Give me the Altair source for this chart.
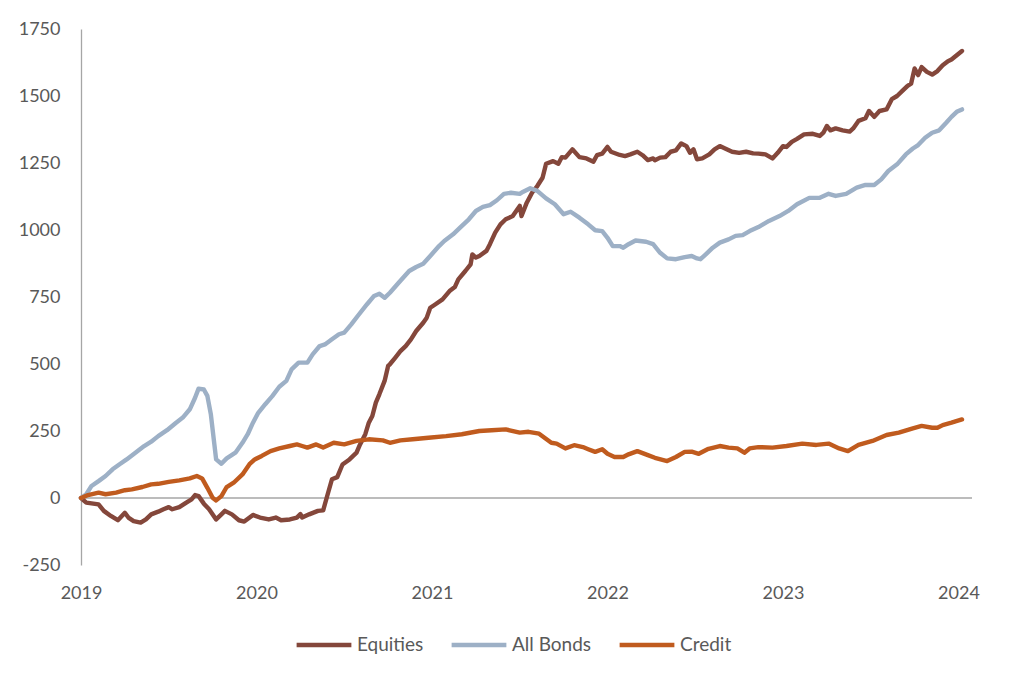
import altair as alt
import pandas as pd

series_names = ["Equities", "All Bonds", "Credit"]
colors = ["#84473b", "#9db0c6", "#c05b1e"]

eq_x = [2019.00, 2019.03, 2019.07, 2019.10, 2019.13, 2019.17, 2019.21, 2019.25, 2019.27, 2019.30,
        2019.34, 2019.37, 2019.40, 2019.44, 2019.47, 2019.50, 2019.52, 2019.56, 2019.60, 2019.63,
        2019.65, 2019.67, 2019.70, 2019.73, 2019.77, 2019.80, 2019.82, 2019.86, 2019.90, 2019.93,
        2019.98, 2020.02, 2020.07, 2020.11, 2020.14, 2020.19, 2020.23, 2020.25, 2020.26, 2020.30,
        2020.35, 2020.38, 2020.40, 2020.43, 2020.46, 2020.49, 2020.53, 2020.57, 2020.59, 2020.62,
        2020.64, 2020.66, 2020.68, 2020.70, 2020.73, 2020.75, 2020.76, 2020.79, 2020.82, 2020.85,
        2020.88, 2020.91, 2020.95, 2020.97, 2020.99, 2021.02, 2021.06, 2021.10, 2021.13, 2021.15,
        2021.19, 2021.22, 2021.23, 2021.25, 2021.27, 2021.31, 2021.33, 2021.36, 2021.39, 2021.42,
        2021.46, 2021.48, 2021.50, 2021.51, 2021.54, 2021.57, 2021.60, 2021.63, 2021.65, 2021.69,
        2021.72, 2021.74, 2021.76, 2021.80, 2021.84, 2021.88, 2021.92, 2021.94, 2021.97, 2022.00,
        2022.02, 2022.07, 2022.10, 2022.13, 2022.17, 2022.20, 2022.23, 2022.26, 2022.27, 2022.30,
        2022.33, 2022.36, 2022.39, 2022.42, 2022.45, 2022.47, 2022.49, 2022.51, 2022.54, 2022.58,
        2022.61, 2022.64, 2022.67, 2022.71, 2022.75, 2022.79, 2022.83, 2022.86, 2022.90, 2022.94,
        2022.97, 2023.00, 2023.02, 2023.05, 2023.08, 2023.12, 2023.17, 2023.21, 2023.23, 2023.25,
        2023.27, 2023.30, 2023.34, 2023.38, 2023.40, 2023.43, 2023.47, 2023.49, 2023.52, 2023.55,
        2023.59, 2023.62, 2023.65, 2023.68, 2023.71, 2023.73, 2023.75, 2023.77, 2023.79, 2023.82,
        2023.85, 2023.88, 2023.91, 2023.94, 2023.96, 2023.99, 2024.02]
eq_y = [0, -17, -21, -24, -48, -67, -83, -55, -73, -86,
        -92, -80, -61, -51, -42, -34, -42, -34, -17, -5,
        11, 7, -21, -42, -80, -61, -48, -61, -83, -88,
        -63, -73, -80, -73, -83, -80, -73, -60, -73, -61,
        -48, -46, 1, 70, 78, 125, 144, 169, 200, 238,
        281, 306, 356, 387, 437, 493, 499, 523, 548, 567,
        592, 623, 654, 673, 710, 723, 741, 772, 787, 816,
        847, 872, 909, 897, 903, 922, 947, 990, 1021, 1040,
        1052, 1071, 1090, 1052, 1102, 1139, 1164, 1195, 1247, 1257,
        1247, 1272, 1270, 1301, 1272, 1267, 1255, 1279, 1285, 1310,
        1292, 1280, 1276, 1282, 1292, 1279, 1261, 1267, 1260, 1270,
        1272, 1292, 1297, 1323, 1313, 1288, 1301, 1264, 1267, 1282,
        1301, 1313, 1304, 1292, 1288, 1292, 1286, 1285, 1282, 1267,
        1288, 1313, 1310, 1329, 1340, 1357, 1359, 1351, 1363, 1388,
        1372, 1379, 1372, 1367, 1379, 1407, 1417, 1444, 1422, 1444,
        1450, 1488, 1500, 1519, 1538, 1546, 1603, 1578, 1608, 1590,
        1580, 1593, 1615, 1630, 1636, 1652, 1668]

bd_x = [2019.00, 2019.03, 2019.06, 2019.10, 2019.14, 2019.18, 2019.22, 2019.26, 2019.31, 2019.36,
        2019.40, 2019.44, 2019.49, 2019.54, 2019.58, 2019.62, 2019.65, 2019.67, 2019.70, 2019.72,
        2019.74, 2019.76, 2019.77, 2019.80, 2019.83, 2019.88, 2019.92, 2019.95, 2019.98, 2020.01,
        2020.05, 2020.09, 2020.13, 2020.17, 2020.20, 2020.24, 2020.29, 2020.32, 2020.36, 2020.39,
        2020.43, 2020.47, 2020.50, 2020.54, 2020.58, 2020.63, 2020.67, 2020.70, 2020.73, 2020.76,
        2020.81, 2020.87, 2020.91, 2020.95, 2020.99, 2021.04, 2021.07, 2021.12, 2021.16, 2021.21,
        2021.25, 2021.29, 2021.33, 2021.37, 2021.41, 2021.45, 2021.50, 2021.52, 2021.56, 2021.60,
        2021.65, 2021.70, 2021.75, 2021.79, 2021.84, 2021.89, 2021.93, 2021.97, 2022.00, 2022.03,
        2022.07, 2022.09, 2022.12, 2022.16, 2022.22, 2022.26, 2022.30, 2022.34, 2022.39, 2022.44,
        2022.48, 2022.51, 2022.53, 2022.56, 2022.60, 2022.64, 2022.69, 2022.73, 2022.77, 2022.81,
        2022.86, 2022.92, 2022.98, 2023.03, 2023.08, 2023.15, 2023.21, 2023.26, 2023.30, 2023.36,
        2023.42, 2023.47, 2023.52, 2023.56, 2023.60, 2023.65, 2023.70, 2023.74, 2023.77, 2023.81,
        2023.85, 2023.89, 2023.93, 2023.96, 2023.99, 2024.02]
bd_y = [0, 14, 45, 63, 82, 107, 126, 144, 169, 194,
        210, 231, 253, 280, 300, 331, 374, 408, 405, 381,
        312, 200, 144, 128, 148, 169, 206, 238, 281, 318,
        350, 380, 415, 437, 480, 505, 505, 536, 567, 573,
        592, 611, 617, 648, 682, 723, 754, 762, 747, 766,
        803, 847, 862, 874, 903, 940, 959, 984, 1009, 1040,
        1071, 1086, 1093, 1111, 1135, 1139, 1135, 1143, 1156, 1146,
        1118, 1096, 1059, 1068, 1046, 1021, 999, 996, 971, 940,
        940, 934, 947, 961, 956, 947, 915, 894, 891, 899,
        903, 894, 891, 909, 934, 953, 965, 978, 981, 996,
        1011, 1034, 1052, 1071, 1096, 1120, 1120, 1135, 1127, 1135,
        1158, 1168, 1168, 1189, 1220, 1245, 1282, 1304, 1317, 1344,
        1363, 1372, 1400, 1422, 1441, 1450]

cr_x = [2019.00, 2019.04, 2019.10, 2019.14, 2019.20, 2019.25, 2019.29, 2019.35, 2019.40, 2019.44,
        2019.50, 2019.56, 2019.62, 2019.66, 2019.69, 2019.72, 2019.75, 2019.77, 2019.80, 2019.83,
        2019.87, 2019.92, 2019.96, 2019.99, 2020.03, 2020.08, 2020.13, 2020.19, 2020.23, 2020.26,
        2020.29, 2020.34, 2020.38, 2020.44, 2020.50, 2020.57, 2020.64, 2020.72, 2020.76, 2020.82,
        2020.89, 2020.98, 2021.08, 2021.17, 2021.27, 2021.34, 2021.42, 2021.50, 2021.55, 2021.61,
        2021.68, 2021.71, 2021.76, 2021.81, 2021.86, 2021.89, 2021.93, 2021.97, 2022.00, 2022.04,
        2022.09, 2022.12, 2022.17, 2022.23, 2022.27, 2022.34, 2022.39, 2022.44, 2022.48, 2022.52,
        2022.57, 2022.64, 2022.69, 2022.74, 2022.78, 2022.81, 2022.86, 2022.94, 2023.02, 2023.11,
        2023.19, 2023.26, 2023.32, 2023.37, 2023.43, 2023.51, 2023.59, 2023.66, 2023.74, 2023.79,
        2023.85, 2023.88, 2023.91, 2023.96, 2024.02]
cr_y = [0, 11, 20, 14, 20, 29, 32, 41, 51, 53,
        60, 66, 73, 82, 73, 38, 1, -9, 7, 41,
        57, 88, 126, 144, 157, 175, 185, 194, 200, 194,
        188, 200, 188, 206, 200, 213, 219, 215, 206, 215,
        219, 225, 231, 238, 250, 253, 256, 244, 247, 240,
        206, 203, 185, 197, 190, 182, 172, 182, 165, 153,
        153, 163, 175, 160, 150, 138, 153, 172, 173, 165,
        182, 194, 188, 185, 169, 185, 190, 188, 194, 203,
        198, 203, 185, 175, 198, 213, 235, 244, 260, 269,
        262, 262, 272, 281, 293]

frames = []
for name, xs, ys in [("Equities", eq_x, eq_y), ("All Bonds", bd_x, bd_y), ("Credit", cr_x, cr_y)]:
    frames.append(pd.DataFrame({"year": xs, "value": ys, "series": name}))
df = pd.concat(frames, ignore_index=True)

W, H = 891, 536
FONT = "Lato"
LABEL = "#595959"

lines = alt.Chart(df).mark_line(strokeWidth=4.4, strokeJoin="round", strokeCap="round").encode(
    x=alt.X("year:Q", scale=alt.Scale(domain=[2019, 2024.077], nice=False, zero=False),
            axis=alt.Axis(values=[2019, 2020, 2021, 2022, 2023, 2024], format="d", title=None,
                          domain=False, ticks=False, grid=False, labelPadding=19, labelFlush=False,
                          labelOverlap=False,
                          labelFontSize=18, labelColor=LABEL, labelFont=FONT)),
    y=alt.Y("value:Q", scale=alt.Scale(domain=[-250, 1750], nice=False),
            axis=alt.Axis(values=list(range(-250, 1751, 250)), title=None, grid=False,
                          labelExpr="datum.value < 0 ? '-' + abs(datum.value) : '' + datum.value",
                          domain=True, domainColor="#a6a6a6", domainWidth=1.3, ticks=False,
                          labelPadding=21, labelFontSize=18, labelColor=LABEL, labelFont=FONT,
                          labelFlush=False, labelOverlap=False)),
    color=alt.Color("series:N", sort=series_names,
                    scale=alt.Scale(domain=series_names, range=colors),
                    legend=alt.Legend(title=None, orient="none", direction="horizontal",
                                      legendX=213, legendY=586, symbolType="stroke",
                                      symbolSize=3000, symbolStrokeWidth=4.5,
                                      labelFontSize=19, labelColor=LABEL, labelFont=FONT,
                                      labelOffset=3, columnPadding=18, padding=0)),
    order=alt.Order("year:Q"),
)

zero = alt.Chart(pd.DataFrame({"v": [0]})).mark_rule(color="#a6a6a6", strokeWidth=1.3).encode(
    y="v:Q", x=alt.value(0), x2=alt.value(W)
)

chart = alt.layer(zero, lines).properties(
    width=W, height=H,
    autosize=alt.AutoSizeParams(type="none"),
    padding={"left": 73, "top": 21, "right": 10, "bottom": 110},
).configure_view(stroke=None)

chart.save("out.html", embed_options={"renderer": "svg", "actions": False})
